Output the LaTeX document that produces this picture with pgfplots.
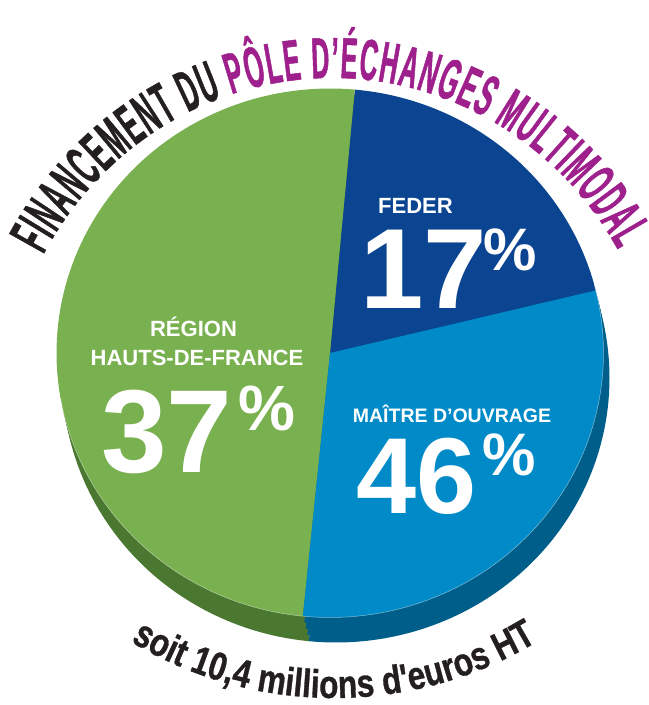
\documentclass[border=0pt]{standalone}
\usepackage{fontspec}
\setmainfont{Liberation Sans}
\newfontfamily\titlefont[FakeStretch=0.43,FakeBold=0.8]{Liberation Sans}
\newfontfamily\subfont[FakeStretch=0.8,FakeBold=0.8]{Liberation Sans}
\usepackage{pgfplots}
\pgfplotsset{compat=1.18}
\usetikzlibrary{decorations.text,calc}
\definecolor{grtop}{RGB}{122,177,80}
\definecolor{grside}{RGB}{74,120,49}
\definecolor{fedtop}{RGB}{11,69,146}
\definecolor{fedside}{RGB}{8,50,110}
\definecolor{motop}{RGB}{0,139,200}
\definecolor{moside}{RGB}{0,94,138}
\definecolor{titlepurple}{RGB}{158,32,140}
\definecolor{txtblack}{RGB}{35,31,32}
% pie geometry (image units)
\def\cx{330}\def\cy{353}\def\rx{273.5}\def\ry{264.5}
\def\ox{6}\def\oy{25}
% slice boundaries as drawn in the reference (degrees)
% FEDER 17 %, Region Hauts-de-France 37 %, Maitre d'ouvrage 46 %
\def\tA{13.7}\def\tB{84.8}\def\tC{264.3}\def\tD{373.7}
\begin{document}
\begin{tikzpicture}
\begin{axis}[
  scale only axis, width=649bp, height=705bp,
  xmin=0, xmax=649, ymin=0, ymax=705, y dir=reverse,
  hide axis, clip=false,
]
% side (thickness)
\pgfplotsinvokeforeach{1,0.75,0.5,0.25}{
  \addplot[fill=fedside, draw=none, domain=\tA:\tB, samples=60, variable=\t]
    ({\cx+\ox*#1+\rx*cos(\t)},{\cy+\oy*#1-\ry*sin(\t)}) -- (axis cs:{\cx+\ox*#1},{\cy+\oy*#1}) -- cycle;
  \addplot[fill=grside, draw=none, domain=\tB:\tC, samples=120, variable=\t]
    ({\cx+\ox*#1+\rx*cos(\t)},{\cy+\oy*#1-\ry*sin(\t)}) -- (axis cs:{\cx+\ox*#1},{\cy+\oy*#1}) -- cycle;
  \addplot[fill=moside, draw=none, domain=\tC:\tD, samples=90, variable=\t]
    ({\cx+\ox*#1+\rx*cos(\t)},{\cy+\oy*#1-\ry*sin(\t)}) -- (axis cs:{\cx+\ox*#1},{\cy+\oy*#1}) -- cycle;
}
% top surface
\addplot[fill=fedtop, draw=none, domain=\tA:\tB, samples=60, variable=\t]
  ({\cx+\rx*cos(\t)},{\cy-\ry*sin(\t)}) -- (axis cs:\cx,\cy) -- cycle;
\addplot[fill=grtop, draw=none, domain=\tB:\tC, samples=120, variable=\t]
  ({\cx+\rx*cos(\t)},{\cy-\ry*sin(\t)}) -- (axis cs:\cx,\cy) -- cycle;
\addplot[fill=motop, draw=none, domain=\tC:\tD, samples=90, variable=\t]
  ({\cx+\rx*cos(\t)},{\cy-\ry*sin(\t)}) -- (axis cs:\cx,\cy) -- cycle;
\addplot[draw=white, draw opacity=0.5, line width=0.5bp, domain=190:375, samples=120, variable=\t]
  ({\cx+\rx*cos(\t)},{\cy-\ry*sin(\t)});

% labels
\node[text=white, anchor=base, inner sep=0pt, font=\bfseries\fontsize{22bp}{26bp}\selectfont] at (axis cs:193.5,336) {RÉGION};
\node[text=white, anchor=base, inner sep=0pt, font=\bfseries\fontsize{22bp}{26bp}\selectfont] at (axis cs:197,365) {HAUTS-DE-FRANCE};
\node[text=white, anchor=base west, inner sep=0pt, font=\bfseries\fontsize{118bp}{120bp}\selectfont] at (axis cs:101,472) {37};
\node[text=white, anchor=base west, inner sep=0pt, font=\bfseries\fontsize{64bp}{66bp}\selectfont] at (axis cs:238,430) {\%};

\node[text=white, anchor=base, inner sep=0pt, font=\bfseries\fontsize{22bp}{26bp}\selectfont] at (axis cs:415.5,213) {FEDER};
\node[text=white, anchor=base west, inner sep=0pt, font=\bfseries\fontsize{114bp}{120bp}\selectfont] at (axis cs:360,308) {17};
\node[text=white, anchor=base west, inner sep=0pt, font=\bfseries\fontsize{60bp}{66bp}\selectfont] at (axis cs:483,270) {\%};

\node[text=white, anchor=base, inner sep=0pt, font=\bfseries\fontsize{19.5bp}{24bp}\selectfont] at (axis cs:452,422) {MAÎTRE D’OUVRAGE};
\node[text=white, anchor=base west, inner sep=0pt, font=\bfseries\fontsize{108bp}{112bp}\selectfont] at (axis cs:356,513) {46};
\node[text=white, anchor=base west, inner sep=0pt, font=\bfseries\fontsize{60bp}{66bp}\selectfont] at (axis cs:482,475) {\%};

% curved title
\path[decorate, decoration={text along path, text align={fit to path},
  text={|\titlefont\bfseries\fontsize{58bp}{60bp}\selectfont\color{txtblack}|FINANCEMENT DU |\titlefont\bfseries\fontsize{58bp}{60bp}\selectfont\color{titlepurple}|PÔLE D’ÉCHANGES MULTIMODAL}}]
  ($(axis cs:332,421)+(151:330bp and 343bp)$) arc[start angle=151, end angle=30, x radius=330bp, y radius=343bp];
% curved subtitle
\path[decorate, decoration={text along path, text align=center,
  text={|\subfont\bfseries\fontsize{39.5bp}{42bp}\selectfont\color{txtblack}|soit 10,4 millions d'euros HT}}]
  ($(axis cs:334,304)+(-130:394bp)$) arc[start angle=-130, end angle=-50, radius=394bp];

\coordinate (LL) at (axis cs:0,705);
\coordinate (UR) at (axis cs:649,0);
\end{axis}
\pgfresetboundingbox
\path (LL) rectangle (UR);
\end{tikzpicture}
\end{document}
